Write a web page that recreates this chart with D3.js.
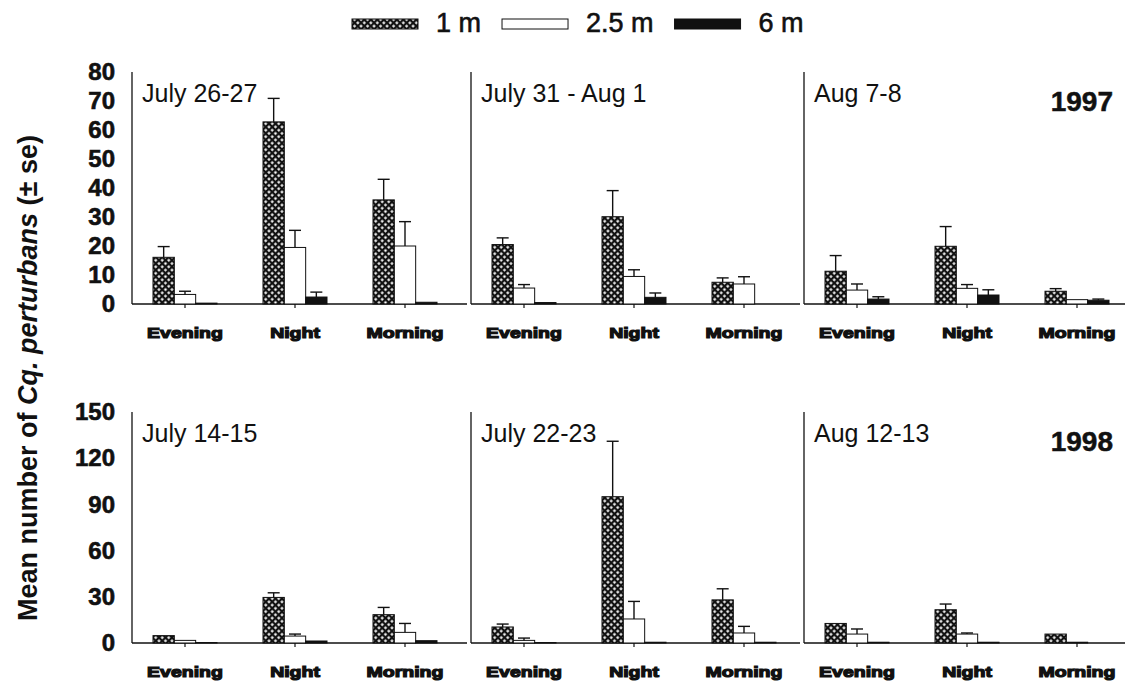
<!DOCTYPE html>
<html>
<head>
<meta charset="utf-8">
<script src="https://cdn.jsdelivr.net/npm/d3@7"></script>
<style>
  body { margin: 0; background: #fff; }
  svg { display: block; font-family: "Liberation Sans", Arial, sans-serif; }
</style>
</head>
<body>
<svg id="chart" width="1128" height="697"></svg>
<script>
// categories
var periods = ["Evening", "Night", "Morning"];
var depths = ["1 m", "2.5 m", "6 m"];
var dates1997 = ["July 26-27", "July 31 - Aug 1", "Aug 7-8"];
var dates1998 = ["July 14-15", "July 22-23", "Aug 12-13"];
var ticks1997 = [0, 10, 20, 30, 40, 50, 60, 70, 80];
var ticks1998 = [0, 30, 60, 90, 120, 150];

// means [panel][period][depth]
var mean1997 = [
  [[16.1, 3.3, 0.3], [62.8, 19.5, 2.4], [35.9, 20.0, 0.6]],
  [[20.5, 5.5, 0.5], [30.1, 9.5, 2.3], [7.5, 6.9, 0]],
  [[11.3, 4.8, 1.7], [19.9, 5.4, 3.1], [4.4, 1.5, 1.3]]
];
var se1997 = [
  [[3.7, 1.1, 0], [8.1, 5.9, 1.7], [7.1, 8.4, 0]],
  [[2.3, 1.2, 0], [9.0, 2.3, 1.5], [1.5, 2.5, 0]],
  [[5.4, 2.1, 0.8], [6.8, 1.3, 1.8], [0.9, 0, 0.4]]
];
var mean1998 = [
  [[4.8, 1.7, 0.3], [29.6, 4.5, 1.3], [18.4, 6.9, 1.5]],
  [[10.4, 1.7, 0.3], [95, 15.6, 0.5], [28, 6.5, 0.5]],
  [[12.7, 5.8, 0.5], [21.6, 5.8, 0.5], [5.8, 0.5, 0]]
];
var se1998 = [
  [[0, 0, 0], [3.0, 1.3, 0], [4.7, 5.8, 0]],
  [[1.9, 1.5, 0], [36, 11.4, 0], [7.2, 4.3, 0]],
  [[0, 3.3, 0], [3.7, 0.7, 0], [0, 0, 0]]
];

var svg = d3.select("#chart");

// crosshatch fill for the 1 m series
var defs = svg.append("defs");
var pat = defs.append("pattern")
  .attr("id", "hatch")
  .attr("patternUnits", "userSpaceOnUse")
  .attr("width", 4.6).attr("height", 4.6)
  .attr("patternTransform", "rotate(45)");
pat.append("rect").attr("width", 4.6).attr("height", 4.6).attr("fill", "#111");
pat.append("rect").attr("x", 1.2).attr("y", 1.2).attr("width", 2.3).attr("height", 2.3).attr("fill", "#fff");

var fills = { "1 m": "url(#hatch)", "2.5 m": "#fff", "6 m": "#111" };

var panelX = [132, 471, 804];
var rightEdge = 1125;

var rows = [
  { year: "1997", dates: dates1997, mean: mean1997, se: se1997, ticks: ticks1997, max: 80, top: 72, base: 304 },
  { year: "1998", dates: dates1998, mean: mean1998, se: se1998, ticks: ticks1998, max: 150, top: 412, base: 643 }
];

var x = d3.scaleBand().domain(periods).range([-2, 328]);
var xd = d3.scaleBand().domain(depths).range([-32, 32]);

rows.forEach(function(row) {
  var y = d3.scaleLinear().domain([0, row.max]).range([row.base, row.top]);

  // y axis labels on the first panel only
  svg.append("g")
    .attr("transform", "translate(" + panelX[0] + ",0)")
    .call(d3.axisLeft(y).tickValues(row.ticks).tickSize(0).tickPadding(17))
    .call(function(g) { g.select(".domain").remove(); })
    .selectAll("text")
    .attr("font-family", "Liberation Sans, Arial, sans-serif")
    .attr("font-size", 24)
    .attr("font-weight", "bold")
    .attr("fill", "#111")
    .attr("stroke", "#111").attr("stroke-width", 0.6);

  panelX.forEach(function(x0, p) {
    var g = svg.append("g").attr("transform", "translate(" + x0 + ",0)");
    var x1 = p < panelX.length - 1 ? panelX[p + 1] - x0 - 4 : rightEdge - x0;

    g.append("line")
      .attr("x1", 0).attr("x2", 0)
      .attr("y1", y(row.max)).attr("y2", row.base)
      .attr("stroke", "#111").attr("stroke-width", 1.3);
    g.append("line")
      .attr("x1", 0).attr("x2", x1)
      .attr("y1", row.base).attr("y2", row.base)
      .attr("stroke", "#111").attr("stroke-width", 1.3);

    // small x ticks at group centres
    g.selectAll(".xtick").data(periods).enter().append("line")
      .attr("x1", function(d) { return x(d) + x.bandwidth() / 2; })
      .attr("x2", function(d) { return x(d) + x.bandwidth() / 2; })
      .attr("y1", row.base).attr("y2", row.base + 4)
      .attr("stroke", "#111").attr("stroke-width", 1.2);

    var groups = g.selectAll(".grp").data(periods).enter().append("g")
      .attr("transform", function(d) { return "translate(" + (x(d) + x.bandwidth() / 2) + ",0)"; });

    groups.each(function(period, i) {
      var grp = d3.select(this);
      var vals = depths.map(function(dp, k) {
        return { depth: dp, v: row.mean[p][i][k], se: row.se[p][i][k] };
      });

      grp.selectAll("rect").data(vals).enter().append("rect")
        .attr("x", function(d) { return xd(d.depth); })
        .attr("width", xd.bandwidth())
        .attr("y", function(d) { return y(d.v); })
        .attr("height", function(d) { return row.base - y(d.v); })
        .attr("fill", function(d) { return fills[d.depth]; })
        .attr("stroke", "#111").attr("stroke-width", 1);

      var eb = vals.filter(function(d) { return d.se > 0; });
      grp.selectAll(".err").data(eb).enter().append("line")
        .attr("x1", function(d) { return xd(d.depth) + xd.bandwidth() / 2; })
        .attr("x2", function(d) { return xd(d.depth) + xd.bandwidth() / 2; })
        .attr("y1", function(d) { return y(d.v); })
        .attr("y2", function(d) { return y(d.v + d.se); })
        .attr("stroke", "#111").attr("stroke-width", 1.4);
      grp.selectAll(".cap").data(eb).enter().append("line")
        .attr("x1", function(d) { return xd(d.depth) + xd.bandwidth() / 2 - 6; })
        .attr("x2", function(d) { return xd(d.depth) + xd.bandwidth() / 2 + 6; })
        .attr("y1", function(d) { return y(d.v + d.se); })
        .attr("y2", function(d) { return y(d.v + d.se); })
        .attr("stroke", "#111").attr("stroke-width", 1.4);

      // heavy period label
      grp.append("text")
        .attr("transform", "translate(0," + (row.base + 34) + ") scale(1.3,1)")
        .attr("text-anchor", "middle")
        .attr("font-size", 15)
        .attr("font-weight", "bold")
        .attr("fill", "#111")
        .attr("stroke", "#111").attr("stroke-width", 1.2)
        .text(period);
    });

    g.append("text")
      .attr("x", 10).attr("y", row.top + 30)
      .attr("font-size", 25)
      .attr("fill", "#111")
      .text(row.dates[p]);
  });

  svg.append("text")
    .attr("x", 1113).attr("y", row.top + 39)
    .attr("text-anchor", "end")
    .attr("font-size", 28)
    .attr("font-weight", "bold")
    .attr("fill", "#111")
    .attr("stroke", "#111").attr("stroke-width", 0.5)
    .text(row.year);
});

// y title
var yt = svg.append("text")
  .attr("transform", "translate(37,378) rotate(-90)")
  .attr("text-anchor", "middle")
  .attr("font-size", 27)
  .attr("font-weight", "bold")
  .attr("fill", "#111");
yt.append("tspan").text("Mean number of ");
yt.append("tspan").attr("font-style", "italic").text("Cq. perturbans");
yt.append("tspan").text(" (\u00b1 se)");

// legend
var lx = 352;
depths.forEach(function(dp) {
  svg.append("rect")
    .attr("x", lx).attr("y", 19).attr("width", 66).attr("height", 10)
    .attr("fill", fills[dp]).attr("stroke", "#111").attr("stroke-width", 1);
  var t = svg.append("text")
    .attr("x", lx + 84).attr("y", 32)
    .attr("font-size", 27)
    .attr("fill", "#111")
    .attr("stroke", "#111").attr("stroke-width", 0.6)
    .text(dp);
  lx = lx + 84 + t.node().getComputedTextLength() + 21;
});
</script>
</body>
</html>
